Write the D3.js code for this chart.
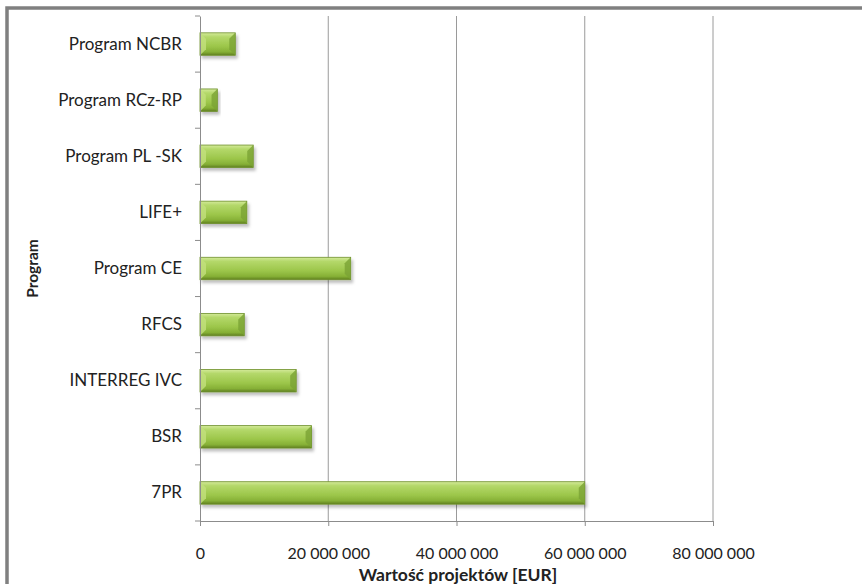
<!DOCTYPE html>
<html>
<head>
<meta charset="utf-8">
<script src="https://cdn.jsdelivr.net/npm/d3@7"></script>
<style>
  body { margin: 0; background: #fff; }
  svg { display: block; font-family: Lato, "Open Sans", sans-serif; }
</style>
</head>
<body>
<div id="chart"></div>
<script>
// categories, top to bottom as drawn
var programs = ["Program NCBR", "Program RCz-RP", "Program PL -SK", "LIFE+", "Program CE",
                "RFCS", "INTERREG IVC", "BSR", "7PR"];
// project values in EUR
var values = [5500000, 2700000, 8300000, 7300000, 23500000, 6900000, 15000000, 17400000, 60000000];
var xTicks = [0, 20000000, 40000000, 60000000, 80000000];
var xTickLabels = ["0", "20 000 000", "40 000 000", "60 000 000", "80 000 000"];

var svgWidth = 862, svgHeight = 584;
var margin = { top: 16, left: 200 };
var chartWidth = 513, chartHeight = 505;

var svg = d3.select("#chart").append("svg")
  .attr("width", svgWidth)
  .attr("height", svgHeight);

// gradient + shadow for the bevelled bars
var defs = svg.append("defs");
var grad = defs.append("linearGradient").attr("id", "barGrad")
  .attr("x1", 0).attr("y1", 0).attr("x2", 0).attr("y2", 1);
grad.append("stop").attr("offset", "0%").attr("stop-color", "#d4ea9a");
grad.append("stop").attr("offset", "18%").attr("stop-color", "#b4d86a");
grad.append("stop").attr("offset", "60%").attr("stop-color", "#9cc64a");
grad.append("stop").attr("offset", "85%").attr("stop-color", "#86b036");
grad.append("stop").attr("offset", "100%").attr("stop-color", "#5f7f20");
var shadow = defs.append("filter").attr("id", "shadow")
  .attr("x", "-10%").attr("y", "-30%").attr("width", "130%").attr("height", "180%");
shadow.append("feDropShadow").attr("dx", 2).attr("dy", 3).attr("stdDeviation", 1.5)
  .attr("flood-color", "#000").attr("flood-opacity", 0.25);

// outer frame (only top and left edges show)
svg.append("rect")
  .attr("x", 7).attr("y", 8)
  .attr("width", svgWidth + 20).attr("height", svgHeight + 20)
  .attr("fill", "none")
  .attr("stroke", "#808080")
  .attr("stroke-width", 3.5);

var g = svg.append("g")
  .attr("transform", "translate(" + margin.left + "," + margin.top + ")");

var x = d3.scaleLinear().domain([0, 80000000]).range([0, chartWidth]);
var y = d3.scaleBand().domain(programs).range([0, chartHeight]).paddingInner(0.6).paddingOuter(0.3);

// gridlines
g.append("g")
  .selectAll("line")
  .data(xTicks.slice(1))
  .enter()
  .append("line")
    .attr("x1", function (d) { return x(d); })
    .attr("x2", function (d) { return x(d); })
    .attr("y1", 0)
    .attr("y2", chartHeight)
    .attr("stroke", "#9a9a9a")
    .attr("stroke-width", 1);

// bars
var bars = g.append("g").selectAll("g.bar")
  .data(programs)
  .enter()
  .append("g")
    .attr("class", "bar");

bars.append("rect")
  .attr("x", x(0))
  .attr("y", function (d) { return y(d); })
  .attr("width", function (d, i) { return x(values[i]) - x(0); })
  .attr("height", y.bandwidth())
  .attr("fill", "url(#barGrad)")
  .attr("stroke", "#6d8f2a")
  .attr("stroke-width", 0.8)
  .attr("filter", "url(#shadow)");

// bevel edges on the bar ends
bars.append("path")
  .attr("d", function (d, i) {
    var x0 = x(0), x1 = x(values[i]), y0 = y(d), h = y.bandwidth(), b = Math.min(6, (x1 - x0) / 3);
    return "M" + x0 + "," + y0 + "L" + (x0 + b) + "," + (y0 + b) + "L" + (x0 + b) + "," + (y0 + h - b) +
      "L" + x0 + "," + (y0 + h) + "Z";
  })
  .attr("fill", "#c3e07e")
  .attr("opacity", 0.8);
bars.append("path")
  .attr("d", function (d, i) {
    var x0 = x(0), x1 = x(values[i]), y0 = y(d), h = y.bandwidth(), b = Math.min(6, (x1 - x0) / 3);
    return "M" + x1 + "," + y0 + "L" + (x1 - b) + "," + (y0 + b) + "L" + (x1 - b) + "," + (y0 + h - b) +
      "L" + x1 + "," + (y0 + h) + "Z";
  })
  .attr("fill", "#7ba234")
  .attr("opacity", 0.8);

// y axis (category)
var yAxis = g.append("g")
  .call(d3.axisLeft(y).tickSize(0).tickPadding(18));
yAxis.select(".domain").attr("stroke", "#8c8c8c");
yAxis.selectAll("text")
  .attr("font-size", 17)
  .attr("fill", "#222")
  .style("font-family", "Lato, sans-serif");
// tick marks at category boundaries
var bounds = d3.range(programs.length + 1).map(function (i) { return i * chartHeight / programs.length; });
g.append("g").selectAll("line")
  .data(bounds)
  .enter()
  .append("line")
    .attr("x1", -5).attr("x2", 0)
    .attr("y1", function (d) { return d; })
    .attr("y2", function (d) { return d; })
    .attr("stroke", "#8c8c8c");

// x axis
var xAxis = g.append("g")
  .attr("transform", "translate(0," + chartHeight + ")")
  .call(d3.axisBottom(x).tickValues(xTicks)
    .tickFormat(function (d, i) { return xTickLabels[i]; })
    .tickSize(5).tickSizeOuter(0).tickPadding(22));
xAxis.selectAll("line").attr("stroke", "#8c8c8c");
xAxis.select(".domain").attr("stroke", "#8c8c8c");
xAxis.selectAll("text")
  .attr("font-size", 16)
  .attr("fill", "#222")
  .style("font-family", "Lato, sans-serif");

// axis titles
svg.append("text")
  .attr("x", 458)
  .attr("y", 581)
  .attr("text-anchor", "middle")
  .attr("font-size", 17.5)
  .attr("font-weight", "bold")
  .attr("fill", "#222")
  .text("Wartość projektów [EUR]");

svg.append("text")
  .attr("transform", "translate(38," + (margin.top + chartHeight / 2) + ") rotate(-90)")
  .attr("text-anchor", "middle")
  .attr("font-size", 15.5)
  .attr("font-weight", "bold")
  .attr("fill", "#222")
  .text("Program");
</script>
</body>
</html>
